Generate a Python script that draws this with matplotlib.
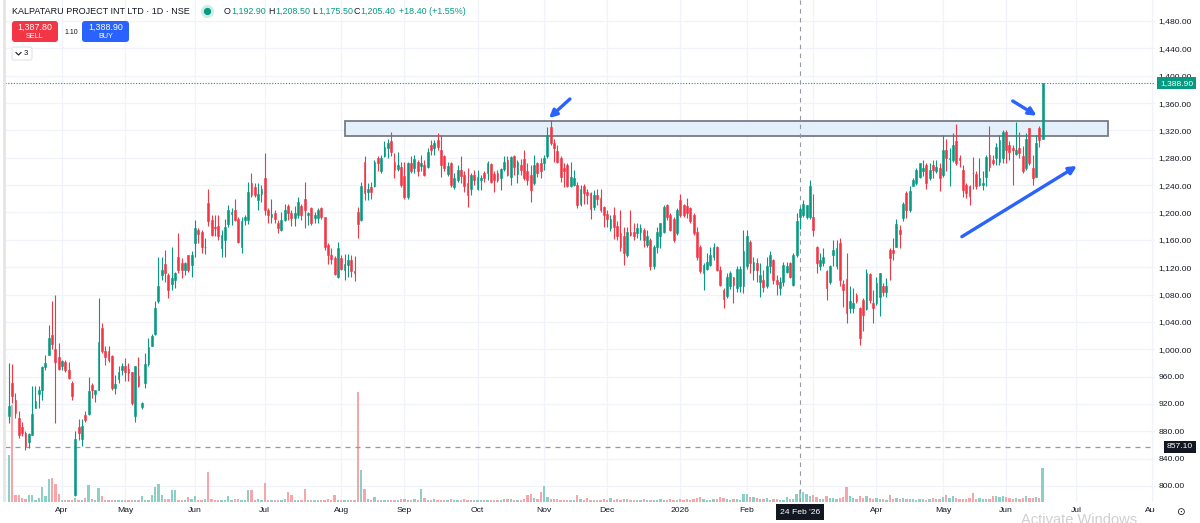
import matplotlib
matplotlib.use("Agg")
import matplotlib.pyplot as plt
import matplotlib.transforms as mtransforms
from matplotlib.patches import FancyBboxPatch, Rectangle
from matplotlib.lines import Line2D
import numpy as np
import pandas as pd

plt.rcParams['font.family'] = ['Liberation Sans', 'DejaVu Sans']

W, H = 1200, 523

# daily candles, NSE, 6 Mar 2025 .. 16 Jun 2026 (one line per month)
opens = [
    902, 951, 926, 899, 887, 878, 865, 875, 914, 935, 940, 974, 992, 1021, 1000, 988,
    975, 981, 970, 951, 787, 887, 868, 904, 905, 948, 935, 941, 1031, 997, 997, 990, 944, 957, 969,
    976, 971, 966, 902, 961, 915, 950, 979, 1004, 1023, 1070, 1109, 1125, 1109, 1096, 1101, 1135, 1126, 1116, 1138, 1123,
    1155, 1175, 1172, 1149, 1214, 1189, 1179, 1180, 1148, 1160, 1183, 1198, 1204, 1191, 1150, 1189, 1189, 1243, 1237, 1218, 1227,
    1250, 1204, 1194, 1199, 1184, 1174, 1189, 1209, 1199, 1192, 1196, 1209, 1219, 1197, 1206, 1192, 1192, 1206, 1193, 1152, 1138, 1133, 1105,
    1133, 1116, 1123, 1131, 1115, 1200, 1189, 1274, 1230, 1237, 1238, 1279, 1260, 1282, 1294, 1304, 1274, 1264, 1267,
    1253, 1222, 1272, 1265, 1274, 1268, 1270, 1267, 1299, 1294, 1306, 1291, 1283, 1256, 1272, 1237, 1247, 1262, 1255, 1243, 1234, 1255,
    1235, 1248, 1258, 1257, 1271, 1256, 1257, 1250, 1264, 1277, 1252, 1283, 1256, 1269, 1278, 1260, 1255, 1243, 1272, 1273,
    1272, 1282, 1325, 1301, 1290, 1279, 1265, 1269, 1239, 1240, 1240, 1213, 1239, 1230, 1229, 1208, 1226, 1221, 1208,
    1198, 1177, 1196, 1180, 1170, 1165, 1138, 1172, 1172, 1170, 1172, 1174, 1152, 1160, 1121, 1150, 1165, 1172, 1211, 1196, 1191, 1170,
    1218, 1211, 1209, 1206, 1196, 1172, 1150, 1112, 1118, 1123, 1135, 1150, 1116, 1087, 1078, 1092, 1106, 1089, 1092, 1092,
    1121, 1157, 1116, 1126, 1099, 1101, 1092, 1121, 1131, 1101, 1089, 1099, 1113, 1126, 1094, 1138, 1192.9, 1196, 1194, 1194,
    1194, 1150, 1121, 1126, 1114, 1099, 1138, 1121, 1155, 1096, 1102, 1061, 1060, 1079, 1060, 1072, 1059, 1110, 1067,
    1067, 1077, 1093, 1083, 1145, 1145, 1150, 1175, 1192, 1228, 1204, 1238, 1243, 1252, 1260, 1270, 1250, 1270, 1260, 1265,
    1255, 1291, 1278, 1277, 1305, 1279, 1262, 1240, 1239, 1258, 1256, 1240, 1240, 1252, 1284, 1276, 1279, 1274, 1279,
    1318, 1299, 1295, 1286, 1295, 1282, 1265, 1323, 1265, 1252, 1323, 1308,
]
highs = [
    980, 978, 936, 909, 894, 880, 877, 946, 946, 946, 975, 992, 1035, 1070, 1079, 1009,
    984, 984, 981, 953, 880, 898, 898, 910, 960, 950, 941, 1075, 1038, 1004, 1004, 992, 962, 976, 980,
    987, 980, 967, 975, 988, 923, 995, 1016, 1023, 1070, 1135, 1135, 1145, 1111, 1149, 1113, 1170, 1133, 1128, 1138, 1143,
    1189, 1178, 1174, 1162, 1234, 1196, 1196, 1196, 1174, 1191, 1211, 1206, 1219, 1194, 1194, 1196, 1244, 1257, 1243, 1243, 1240,
    1287, 1206, 1219, 1204, 1189, 1201, 1213, 1213, 1204, 1209, 1222, 1213, 1244, 1201, 1208, 1201, 1206, 1208, 1194, 1155, 1148, 1136, 1157,
    1138, 1139, 1139, 1138, 1136, 1208, 1244, 1283, 1243, 1245, 1277, 1283, 1284, 1305, 1307, 1318, 1287, 1289, 1274,
    1274, 1274, 1282, 1284, 1277, 1284, 1277, 1294, 1306, 1306, 1316, 1313, 1284, 1274, 1274, 1257, 1269, 1282, 1260, 1265, 1257, 1262,
    1262, 1255, 1261, 1275, 1272, 1260, 1262, 1265, 1283, 1282, 1283, 1284, 1277, 1278, 1292, 1272, 1269, 1284, 1274, 1279,
    1284, 1325, 1335, 1307, 1299, 1282, 1272, 1272, 1274, 1262, 1244, 1240, 1242, 1235, 1230, 1233, 1235, 1234, 1209,
    1204, 1196, 1208, 1187, 1204, 1179, 1179, 1204, 1184, 1184, 1183, 1177, 1174, 1162, 1152, 1179, 1185, 1211, 1213, 1199, 1194, 1206,
    1227, 1213, 1221, 1208, 1199, 1179, 1152, 1126, 1140, 1150, 1155, 1151, 1121, 1089, 1111, 1114, 1106, 1121, 1121, 1174,
    1174, 1160, 1135, 1133, 1126, 1116, 1135, 1144, 1132, 1109, 1106, 1127, 1127, 1127, 1140, 1199, 1208.5, 1218, 1211, 1248,
    1227, 1151, 1140, 1148, 1116, 1123, 1160, 1160, 1162, 1101, 1140, 1092, 1089, 1082, 1062, 1075, 1118, 1111, 1087,
    1106, 1111, 1097, 1104, 1148, 1162, 1190, 1182, 1216, 1231, 1238, 1250, 1265, 1273, 1277, 1272, 1272, 1277, 1277, 1272,
    1313, 1308, 1294, 1316, 1329, 1284, 1270, 1243, 1240, 1281, 1260, 1279, 1260, 1284, 1326, 1284, 1301, 1313, 1321,
    1321, 1304, 1299, 1333, 1318, 1297, 1316, 1323, 1284, 1313, 1326, 1389,
]
lows = [
    892, 921, 900, 870, 873, 853, 855, 874, 914, 914, 926, 970, 992, 1000, 892, 969,
    969, 966, 957, 926, 785, 867, 858, 894, 904, 928, 923, 941, 994, 977, 982, 941, 935, 950, 963,
    953, 953, 919, 894, 945, 913, 943, 975, 1004, 1021, 1068, 1101, 1099, 1075, 1087, 1089, 1111, 1104, 1109, 1113, 1106,
    1135, 1155, 1140, 1139, 1180, 1165, 1165, 1160, 1135, 1135, 1179, 1182, 1187, 1155, 1141, 1182, 1183, 1223, 1222, 1204, 1215,
    1196, 1184, 1184, 1184, 1170, 1173, 1187, 1189, 1180, 1180, 1192, 1189, 1177, 1182, 1182, 1184, 1184, 1191, 1145, 1125, 1125, 1109, 1104,
    1116, 1101, 1106, 1106, 1100, 1162, 1188, 1218, 1218, 1219, 1237, 1260, 1258, 1281, 1279, 1282, 1251, 1260, 1237,
    1219, 1219, 1257, 1257, 1253, 1260, 1253, 1265, 1284, 1284, 1291, 1252, 1260, 1253, 1237, 1234, 1245, 1243, 1230, 1208, 1226, 1240,
    1233, 1233, 1245, 1248, 1243, 1230, 1245, 1233, 1260, 1253, 1240, 1255, 1243, 1255, 1248, 1240, 1216, 1240, 1252, 1250,
    1262, 1279, 1299, 1274, 1273, 1245, 1237, 1237, 1237, 1239, 1206, 1210, 1213, 1213, 1191, 1204, 1211, 1200, 1179,
    1179, 1173, 1161, 1160, 1143, 1123, 1135, 1165, 1160, 1162, 1160, 1150, 1150, 1116, 1118, 1140, 1148, 1170, 1189, 1173, 1157, 1167,
    1194, 1194, 1192, 1184, 1167, 1130, 1111, 1086, 1116, 1121, 1130, 1114, 1092, 1060, 1075, 1088, 1068, 1084, 1084, 1082,
    1118, 1111, 1101, 1099, 1077, 1084, 1089, 1111, 1096, 1079, 1079, 1092, 1111, 1104, 1092, 1135, 1175.5, 1194, 1190, 1191,
    1165, 1111, 1116, 1121, 1072, 1096, 1121, 1118, 1093, 1062, 1038, 1053, 1053, 1067, 1006, 1026, 1058, 1067, 1039,
    1065, 1048, 1078, 1077, 1101, 1131, 1150, 1148, 1187, 1192, 1201, 1238, 1240, 1250, 1253, 1235, 1248, 1250, 1257, 1231,
    1252, 1260, 1238, 1274, 1270, 1267, 1223, 1221, 1211, 1235, 1235, 1238, 1233, 1238, 1260, 1270, 1270, 1270, 1272,
    1272, 1277, 1240, 1284, 1279, 1257, 1262, 1270, 1240, 1252, 1296, 1307,
]
closes = [
    917, 931, 907, 875, 878, 858, 876, 905, 925, 940, 974, 980, 1017, 1008, 982, 971,
    983, 970, 958, 931, 869, 877, 888, 896, 939, 940, 940, 1011, 997, 988, 984, 943, 949, 967, 975,
    966, 965, 921, 975, 946, 921, 979, 1003, 1020, 1060, 1092, 1116, 1111, 1087, 1104, 1112, 1116, 1116, 1126, 1116, 1138,
    1178, 1168, 1149, 1150, 1187, 1167, 1178, 1165, 1167, 1179, 1204, 1201, 1189, 1157, 1188, 1194, 1230, 1226, 1226, 1227, 1235,
    1204, 1196, 1198, 1190, 1177, 1189, 1204, 1199, 1192, 1199, 1216, 1196, 1204, 1199, 1184, 1197, 1204, 1194, 1150, 1138, 1132, 1110, 1148,
    1118, 1125, 1130, 1115, 1112, 1183, 1239, 1228, 1234, 1230, 1274, 1273, 1279, 1296, 1301, 1289, 1262, 1269, 1240,
    1222, 1272, 1260, 1278, 1260, 1272, 1255, 1289, 1291, 1301, 1296, 1270, 1265, 1268, 1240, 1251, 1262, 1253, 1239, 1226, 1255, 1248,
    1252, 1250, 1251, 1273, 1245, 1248, 1248, 1263, 1274, 1255, 1281, 1267, 1274, 1262, 1250, 1248, 1233, 1269, 1258, 1260,
    1279, 1313, 1301, 1295, 1274, 1252, 1260, 1238, 1252, 1250, 1211, 1235, 1229, 1226, 1205, 1226, 1219, 1204, 1196,
    1191, 1191, 1179, 1165, 1150, 1140, 1172, 1167, 1165, 1177, 1177, 1160, 1165, 1121, 1150, 1172, 1184, 1208, 1194, 1174, 1160, 1204,
    1196, 1196, 1199, 1187, 1170, 1135, 1114, 1123, 1128, 1138, 1150, 1116, 1094, 1073, 1106, 1111, 1094, 1118, 1118, 1143,
    1165, 1126, 1127, 1116, 1109, 1091, 1121, 1138, 1101, 1096, 1099, 1123, 1121, 1106, 1138, 1187, 1205.4, 1212, 1211, 1239,
    1174, 1126, 1131, 1135, 1089, 1121, 1145, 1148, 1101, 1087, 1053, 1070, 1067, 1070, 1016, 1050, 1111, 1072, 1060,
    1097, 1111, 1084, 1093, 1133, 1141, 1183, 1168, 1213, 1204, 1231, 1248, 1262, 1272, 1265, 1243, 1262, 1262, 1266, 1250,
    1291, 1279, 1279, 1299, 1272, 1276, 1233, 1228, 1224, 1257, 1238, 1250, 1243, 1281, 1267, 1272, 1296, 1306, 1318,
    1291, 1289, 1291, 1291, 1287, 1260, 1308, 1272, 1250, 1301, 1306, 1388.9,
]
# volume, thousand shares
volumes = [
    940, 1940, 140, 140, 80, 60, 140, 140, 40, 80, 300, 120, 460, 480, 360, 160,
    40, 40, 40, 40, 80, 40, 40, 80, 340, 60, 40, 280, 120, 40, 40, 40, 40, 40, 40,
    40, 40, 40, 40, 40, 120, 40, 40, 140, 300, 360, 140, 60, 60, 240, 240, 40, 40, 40, 100, 60,
    120, 40, 40, 60, 600, 60, 40, 40, 40, 40, 120, 40, 60, 60, 40, 40, 240, 240, 40, 60, 40,
    380, 40, 40, 40, 40, 40, 60, 200, 140, 40, 40, 40, 260, 40, 40, 40, 40, 40, 40, 60, 40, 140, 40,
    40, 40, 40, 40, 40, 2200, 640, 260, 60, 40, 100, 40, 40, 40, 40, 40, 40, 40, 60,
    60, 40, 40, 60, 40, 260, 80, 40, 40, 60, 40, 40, 40, 40, 60, 40, 40, 40, 60, 40, 40, 40,
    40, 40, 40, 40, 40, 40, 40, 40, 60, 60, 60, 40, 40, 40, 60, 140, 160, 80, 60, 200,
    320, 100, 60, 60, 60, 40, 40, 40, 40, 40, 140, 60, 40, 80, 40, 40, 40, 40, 60,
    40, 80, 40, 60, 40, 60, 60, 40, 40, 40, 40, 60, 40, 40, 40, 40, 60, 40, 40, 60, 40, 40,
    60, 40, 60, 40, 60, 80, 100, 60, 40, 40, 60, 60, 100, 80, 60, 40, 60, 60, 40, 160,
    160, 100, 100, 80, 60, 60, 80, 40, 60, 60, 40, 40, 100, 60, 60, 160, 240, 200, 160, 120,
    140, 100, 60, 60, 120, 80, 80, 60, 80, 100, 300, 120, 80, 60, 120, 80, 120, 80, 60,
    80, 60, 60, 40, 140, 60, 80, 60, 80, 60, 60, 60, 40, 60, 60, 40, 60, 80, 60, 60,
    100, 140, 80, 120, 80, 60, 60, 60, 80, 180, 60, 80, 60, 60, 60, 120, 120, 100, 120,
    100, 80, 60, 80, 60, 80, 120, 80, 80, 100, 80, 680,
]

price_ticks = list(range(800, 1481, 40))
last_price = 1388.9
ref_price = 857.1
cross_date = "2026-02-24"
zone_low, zone_high = 1312.5, 1333.5

nse_holidays = ["2025-03-14", "2025-03-31", "2025-04-10", "2025-04-14", "2025-04-18",
                "2025-05-01", "2025-08-15", "2025-08-27", "2025-10-02", "2025-10-21",
                "2025-10-22", "2025-11-05", "2025-12-25", "2026-01-15", "2026-01-26",
                "2026-03-03", "2026-03-26", "2026-03-31", "2026-04-03", "2026-04-14",
                "2026-05-01", "2026-05-28", "2026-06-26"]
days = pd.bdate_range("2025-03-06", "2026-08-31")
days = days[~days.isin(pd.to_datetime(nse_holidays))]

n = len(closes)
idx = np.arange(n)
o = np.array(opens, float); c = np.array(closes, float)
hi = np.array(highs, float); lo = np.array(lows, float)
up = c >= o
col = np.where(up, '#089981', '#f23645')
vcol = np.where(up, '#8ad0c4', '#f8a5aa')

cross_i = int(np.where(days == pd.Timestamp(cross_date))[0][0])
# month starts (trading-day index); the crosshair date label hides the one next to it
month_pos, month_lab = [], []
for k in range(1, len(days)):
    if days[k].month != days[k - 1].month:
        month_pos.append(k)
        lab = str(days[k].year) if days[k].month == 1 else days[k].strftime('%b')
        month_lab.append('' if abs(k - cross_i) < 12 else lab)

fig = plt.figure(figsize=(W / 100, H / 100), dpi=100)
T = mtransforms.Affine2D().scale(1 / W, -1 / H).translate(0, 1) + fig.transFigure

rect = [5 / W, 1 - 502 / H, 1150 / W, 502 / H]
xl = (-1.15, 344.8)
yl = (776.6, 1510.7)

# grid + scales
ax_g = fig.add_axes(rect)
ax_g.set_xlim(xl); ax_g.set_ylim(yl)
for s in ax_g.spines.values():
    s.set_visible(False)
ax_g.yaxis.tick_right()
ax_g.set_yticks(price_ticks)
ax_g.set_yticklabels([f'{v:,.2f}' for v in price_ticks])
ax_g.set_xticks(month_pos)
ax_g.set_xticklabels(month_lab)
ax_g.tick_params(axis='y', length=0, pad=2.5, labelsize=6.1, labelcolor='#131722')
ax_g.tick_params(axis='x', length=0, pad=3.3, labelsize=6.1, labelcolor='#131722')
ax_g.grid(True, color='#f0f3fa', lw=0.9)

# volume
ax_v = fig.add_axes(rect, sharex=ax_g)
ax_v.patch.set_visible(False)
ax_v.set_ylim(0, 502 * 20)
ax_v.axis('off')
ax_v.bar(idx, volumes, width=0.7, color=vcol, linewidth=0)

# price
ax = fig.add_axes(rect, sharex=ax_g, sharey=ax_g)
ax.patch.set_visible(False)
ax.axis('off')
ax.set_xlim(xl); ax.set_ylim(yl)

ax.add_patch(Rectangle((101.1, zone_low), 330.7 - 101.1, zone_high - zone_low,
                       fc='#e3f0fc', ec='#787b86', lw=1.3, zorder=1))
ax.axhline(last_price, color='#089981', ls=(0, (1, 1.5)), lw=0.8, zorder=2)
ax.axhline(ref_price, color='#9598a1', ls=(0, (4, 4)), lw=0.9, zorder=2)
ax.axvline(cross_i, color='#9598a1', ls=(0, (4, 4)), lw=0.8, zorder=2)

ax.vlines(idx, lo, hi, colors=col, lw=0.8, zorder=3)
ax.bar(idx, np.abs(c - o), bottom=np.minimum(o, c), width=0.55, color=col,
       edgecolor=col, linewidth=0.4, zorder=4)

arrow = dict(arrowstyle='-|>', color='#2962ff', lw=2.4, mutation_scale=11, shrinkA=0, shrinkB=0)
ax.annotate('', xy=(162.5, 1338), xytext=(168.8, 1366), arrowprops=arrow, zorder=5)
ax.annotate('', xy=(309.2, 1341.6), xytext=(302.0, 1363), arrowprops=arrow, zorder=5)
ax.annotate('', xy=(321.3, 1268), xytext=(286.7, 1164.6), arrowprops=arrow, zorder=5)

# price scale strip hides the part of the last month label beyond the pane
fig.add_artist(Rectangle((1155, 503), 22, 19, transform=T, fc='white', ec='none'))

# scale labels
ty = mtransforms.blended_transform_factory(T, ax.transData)
ax.text(1193, last_price, f'{last_price:,.2f}', transform=ty, ha='right', va='center',
        fontsize=6.1, color='white', clip_on=False, zorder=10,
        bbox=dict(boxstyle='square,pad=0.3', fc='#089981', ec='none'))
ax.text(1193, ref_price, f'{ref_price:,.2f}', transform=ty, ha='right', va='center',
        fontsize=6.1, color='white', clip_on=False, zorder=10,
        bbox=dict(boxstyle='square,pad=0.3', fc='#131722', ec='none'))
tx = mtransforms.blended_transform_factory(ax.transData, T)
ax.text(cross_i, 512, "24 Feb '26", transform=tx, ha='center', va='center', fontsize=6.1,
        color='white', clip_on=False, zorder=10,
        bbox=dict(boxstyle='square,pad=0.5', fc='#131722', ec='none'))
fig.text(1180, 512, '⊙', transform=T, fontsize=7.5, color='#131722', va='center', ha='center')

# left border strip
fig.add_artist(Rectangle((3, 0), 2.5, 502, transform=T, fc='#e6e6e6', ec='none'))

# legend / header
fig.text(12, 11, 'KALPATARU PROJECT INT LTD · 1D · NSE', transform=T, fontsize=6.5,
         color='#131722', va='center')
fig.add_artist(Line2D([207], [11], transform=T, marker='o', ms=8.5, color='#cdeee7', lw=0))
fig.add_artist(Line2D([207], [11], transform=T, marker='o', ms=4.2, color='#089981', lw=0))
legend = [(224, 'O', '#131722'), (231, '1,192.90', '#089981'), (268, 'H', '#131722'),
          (275, '1,208.50', '#089981'), (312, 'L', '#131722'), (318, '1,175.50', '#089981'),
          (353, 'C', '#131722'), (360, '1,205.40', '#089981'), (399, '+18.40 (+1.55%)', '#089981')]
for px, s, cc in legend:
    fig.text(px, 11, s, transform=T, fontsize=6.4, color=cc, va='center')

fig.add_artist(FancyBboxPatch((12, 21), 46, 21, boxstyle='round,pad=0,rounding_size=3',
                              transform=T, fc='#f23645', ec='none'))
fig.add_artist(FancyBboxPatch((82, 21), 47, 21, boxstyle='round,pad=0,rounding_size=3',
                              transform=T, fc='#2962ff', ec='none'))
fig.text(35, 27, '1,387.80', transform=T, fontsize=6.4, color='white', ha='center', va='center')
fig.text(35, 37, 'SELL', transform=T, fontsize=5.2, color='white', ha='center', va='center')
fig.text(105.5, 27, '1,388.90', transform=T, fontsize=6.4, color='white', ha='center', va='center')
fig.text(105.5, 37, 'BUY', transform=T, fontsize=5.2, color='white', ha='center', va='center')
fig.text(71, 32, '1.10', transform=T, fontsize=5, color='#131722', ha='center', va='center')

fig.add_artist(FancyBboxPatch((12, 47), 20, 13, boxstyle='round,pad=0,rounding_size=2',
                              transform=T, fc='white', ec='#e0e3eb', lw=0.8))
fig.add_artist(Line2D([16, 18.5, 21], [52.5, 55, 52.5], transform=T, color='#131722', lw=0.8))
fig.text(26, 53.5, '3', transform=T, fontsize=5.5, color='#131722', va='center', ha='center')

fig.text(1021, 513, 'Activate Windows', transform=T, fontsize=10.5, color='#cfcfcf', va='top')

fig.savefig('out.png', dpi=100)
